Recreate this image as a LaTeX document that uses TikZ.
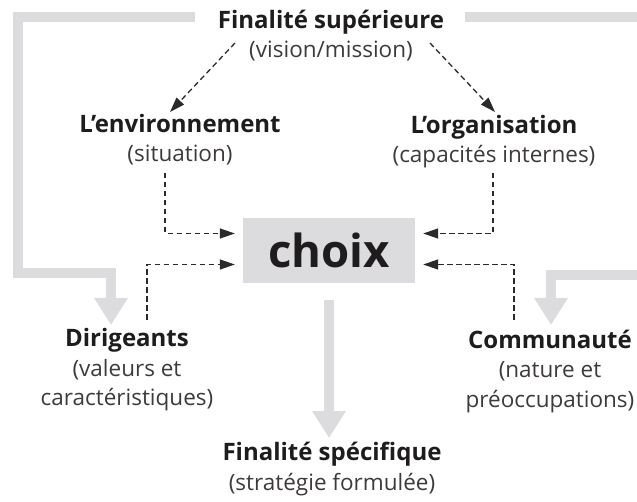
\documentclass[tikz,border=0pt]{standalone}
\usepackage{fontspec}
\setmainfont{Open Sans}
\usetikzlibrary{arrows.meta,calc}
\definecolor{bandgrey}{HTML}{DCDCDE}
\definecolor{titleink}{HTML}{1E1C1C}
\definecolor{subink}{HTML}{3E3A3A}
\definecolor{dashink}{HTML}{2A2A2A}
\newcommand{\ttl}[1]{{\color{titleink}\bfseries\fontsize{24}{29.5}\selectfont #1}}
\begin{document}
\begin{tikzpicture}[x=1pt,y=-1pt,
  block/.style={anchor=base,align=center,inner sep=0pt,text=subink,
    font=\fontsize{22.5}{29.5}\selectfont},
  band/.style={draw=bandgrey,line width=10pt,line join=miter,
    -{Triangle[width=32pt,length=27pt]}},
  dasharr/.style={draw=dashink,line width=1.3pt,dash pattern=on 5.5pt off 3.5pt,
    -{Triangle[length=15pt,width=10pt]}},
  choicebox/.style={fill=bandgrey,minimum width=172pt,minimum height=65pt,
    inner sep=0pt,text=titleink,font=\fontsize{45.5}{50}\selectfont\bfseries}]
\useasboundingbox (0,0) rectangle (637,502);
\clip (0,0) rectangle (637,502);

% blocks of text, each placed on the baseline of its last line
\node[block] (fsup) at (331,58) {\ttl{Finalité supérieure}\\(vision/mission)};
\node[block] (env) at (180,162) {\ttl{L’environnement}\\(situation)};
\node[block] (org) at (494,163) {\ttl{L’organisation}\\(capacités internes)};
\node[block] (dir) at (127,406) {\ttl{Dirigeants}\\(valeurs et\\caractéristiques)};
\node[block] (com) at (550,407) {\ttl{Communauté}\\(nature et\\préoccupations)};
\node[block] (fspe) at (332,490) {\ttl{Finalité spécifique}\\(stratégie formulée)};
\node[choicebox] (choix) at (329,250.5) {choix};

% broad grey bands
\coordinate (lturn) at (18,273);
\coordinate (rturn) at (645,275);
\draw[band] ($(fsup.base)+(-136,-40.5)$) -| (lturn) -| ($(dir.base)+(-16,-81)$);
\draw[band] ($(fsup.base)+(134,-40.5)$) -| (rturn) -| ($(com.base)+(1,-82)$);
\draw[band] ($(choix.south)+(0,17)$) -- ($(fspe.base)+(-3,-52)$);

% dashed influences
\draw[dasharr] ($(fsup.base)+(-96,-15)$) -- ($(env.base)+(-10,-50)$);
\draw[dasharr] ($(fsup.base)+(99,-15)$) -- ($(org.base)+(1,-51)$);
\draw[dasharr] ($(env.base)+(-15,11)$) |- ($(choix.west)+(-8,-17)$);
\draw[dasharr] ($(org.base)+(-1,10)$) |- ($(choix.east)+(8,-17)$);
\draw[dasharr] ($(dir.base)+(20,-86)$) |- ($(choix.west)+(-8,14)$);
\draw[dasharr] ($(com.base)+(-36,-87)$) |- ($(choix.east)+(8,14)$);
\end{tikzpicture}
\end{document}
